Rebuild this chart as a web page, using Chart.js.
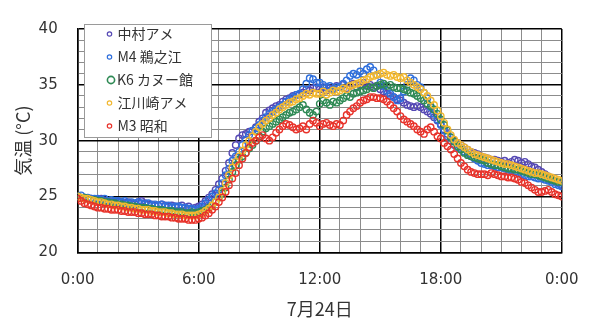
<!DOCTYPE html>
<html lang="ja">
<head>
<meta charset="utf-8">
<script src="https://cdn.jsdelivr.net/npm/chart.js@4/dist/chart.umd.min.js"></script>
<style>
  html, body { margin: 0; padding: 0; background: #fff; }
  #wrap { width: 600px; height: 334px; position: relative; }
</style>
</head>
<body>
<div id="wrap"><canvas id="c" width="600" height="334"></canvas></div>
<script>
// 7月24日の気温 (10分間隔, 0:00〜24:00)
const stepMinutes = 10;

const seriesNames = ['中村アメ', 'M4 鵜之江', 'K6 カヌー館', '江川崎アメ', 'M3 昭和'];
const seriesColors = ['#5548b4', '#2f6fdc', '#2f8a55', '#f2b830', '#e8332b'];

const nakamura = [
  25.0, 24.9, 24.9, 24.8, 24.8, 24.7,
  24.7, 24.8, 24.6, 24.6, 24.5, 24.6,
  24.5, 24.5, 24.4, 24.5, 24.4, 24.3,
  24.5, 24.6, 24.4, 24.3, 24.3, 24.2,
  24.2, 24.3, 24.2, 24.1, 24.2, 24.1,
  24.1, 24.2, 24.0, 24.1, 23.9, 24.0,
  24.1, 24.3, 24.6, 24.9, 25.2, 25.6,
  26.1, 26.6, 27.3, 28.0, 28.9, 29.6,
  30.2, 30.5, 30.6, 30.8, 30.9, 31.2,
  31.7, 32.0, 32.5, 32.7, 32.9, 33.1,
  33.2, 33.5, 33.7, 33.8, 34.0, 34.1,
  34.1, 34.3, 34.6, 34.5, 34.7, 34.8,
  34.6, 34.8, 34.5, 34.7, 34.6, 34.9,
  34.8, 35.0, 34.7, 34.9, 35.1, 34.8,
  35.0, 35.2, 34.9, 35.0, 34.8, 34.9,
  34.6, 34.4, 34.2, 34.0, 33.9, 33.7,
  33.6, 33.4, 33.2, 33.1, 33.0, 33.1,
  33.0, 32.8, 32.6, 32.4, 32.1, 31.8,
  31.5, 31.0, 30.6, 30.3, 30.0, 29.8,
  29.6, 29.4, 29.2, 29.0, 28.9, 28.8,
  28.6, 28.5, 28.4, 28.3, 28.3, 28.2,
  28.1, 28.2, 28.0, 28.1, 28.3, 28.2,
  28.0, 28.1, 27.9, 27.7, 27.6, 27.4,
  27.2, 27.0, 26.8, 26.6, 26.4, 26.2,
  26.0
];

const unoe = [
  25.0, 25.1, 24.9, 24.9, 24.8, 24.8,
  24.8, 24.7, 24.8, 24.6, 24.7, 24.6,
  24.6, 24.5, 24.6, 24.4, 24.5, 24.4,
  24.5, 24.4, 24.3, 24.4, 24.2, 24.3,
  24.2, 24.3, 24.1, 24.2, 24.0, 24.1,
  24.1, 24.0, 24.0, 23.9, 23.9, 23.8,
  23.9, 24.1, 24.4, 24.7, 25.0, 25.3,
  25.6, 26.2, 26.9, 27.5, 28.2, 28.6,
  29.0, 29.6, 30.1, 30.5, 30.9, 31.1,
  31.4, 31.8, 32.1, 32.4, 32.6, 32.8,
  33.0, 33.2, 33.5, 33.7, 33.9, 34.1,
  34.2, 34.6, 35.1, 35.6, 35.5, 35.2,
  35.2, 35.0, 34.8, 34.9, 34.6, 34.8,
  34.8, 35.1, 35.4, 35.8, 36.0, 35.9,
  36.2, 36.0, 36.4, 36.6, 36.3, 35.9,
  35.2, 34.9, 34.5, 34.2, 33.9, 33.6,
  33.8, 34.4, 35.0, 35.6, 35.4, 35.0,
  34.8, 34.3, 33.8, 33.0, 32.4, 31.9,
  31.4, 30.9, 30.4, 30.0, 29.6, 29.4,
  29.2, 29.0, 28.8, 28.6, 28.4, 28.2,
  28.0, 27.9, 27.8, 27.8, 27.7, 27.6,
  27.6, 27.5, 27.4, 27.3, 27.2, 27.1,
  27.0, 26.9, 26.8, 26.8, 26.7, 26.6,
  26.6, 26.5, 26.4, 26.3, 26.1, 26.0,
  25.9
];

const canoeHall = [
  25.0, 24.9, 24.9, 24.8, 24.7, 24.7,
  24.6, 24.6, 24.5, 24.5, 24.4, 24.4,
  24.3, 24.3, 24.2, 24.2, 24.1, 24.1,
  24.0, 24.0, 24.0, 23.9, 23.9, 23.8,
  23.8, 23.8, 23.7, 23.7, 23.7, 23.6,
  23.6, 23.6, 23.5, 23.5, 23.6, 23.5,
  23.6, 23.7, 23.8, 24.0, 24.2, 24.5,
  24.9, 25.3, 25.8, 26.5, 27.2, 27.8,
  28.3, 28.6, 28.9, 29.3, 29.6, 30.0,
  30.4, 30.8, 31.1, 31.3, 31.5, 31.7,
  31.9, 32.1, 32.3, 32.5, 32.6, 32.8,
  33.0, 33.2, 32.8, 32.5, 32.3, 32.6,
  33.3, 33.6, 33.4, 33.2, 33.5, 33.4,
  33.6, 33.8, 34.0, 33.9, 34.2, 34.3,
  34.4, 34.5, 34.6, 34.8, 34.7, 34.9,
  35.0, 35.1, 34.9, 35.0, 34.8, 34.7,
  34.7, 34.6, 34.5, 34.3, 34.2, 34.0,
  33.8, 33.6, 33.3, 33.1, 32.8, 32.4,
  31.9, 31.4, 30.9, 30.3, 29.9, 29.5,
  29.2, 28.9, 28.7, 28.6, 28.5, 28.4,
  28.3, 28.2, 28.0, 27.9, 27.8, 27.8,
  27.7, 27.6, 27.5, 27.5, 27.4, 27.4,
  27.3, 27.2, 27.1, 27.0, 27.0, 26.9,
  26.8, 26.7, 26.6, 26.5, 26.4, 26.3,
  26.3
];

const ekawasaki = [
  25.0, 24.9, 24.8, 24.8, 24.7, 24.6,
  24.5, 24.5, 24.4, 24.3, 24.3, 24.2,
  24.2, 24.1, 24.1, 24.0, 24.0, 23.9,
  23.9, 23.8, 23.8, 23.8, 23.7, 23.7,
  23.6, 23.6, 23.6, 23.5, 23.5, 23.4,
  23.4, 23.4, 23.3, 23.3, 23.3, 23.3,
  23.4, 23.5, 23.7, 23.9, 24.2, 24.5,
  24.9, 25.5, 26.2, 26.9, 27.6, 28.1,
  28.6, 29.1, 29.6, 30.0, 30.4, 30.8,
  31.2, 31.5, 31.8, 32.0, 32.3, 32.5,
  32.8, 33.0, 33.2, 33.4, 33.5, 33.7,
  33.8, 34.0, 34.2, 34.1, 34.3, 34.2,
  34.2, 34.4, 34.1, 34.3, 34.5, 34.4,
  34.5, 34.7, 34.6, 34.9, 35.0, 35.1,
  35.2, 35.4, 35.5, 35.7, 35.8, 35.9,
  36.0, 36.1, 35.9, 35.8, 35.9, 35.7,
  35.6, 35.7, 35.4, 35.2, 35.0, 34.8,
  34.6, 34.3, 34.0, 33.6, 33.2, 32.7,
  32.2, 31.6, 31.0, 30.5, 30.1, 29.8,
  29.6, 29.4, 29.2, 29.0, 28.8, 28.7,
  28.6, 28.5, 28.4, 28.3, 28.2, 28.1,
  28.0, 27.9, 27.9, 27.8, 27.7, 27.6,
  27.5, 27.4, 27.3, 27.2, 27.1, 27.1,
  27.0, 26.9, 26.8, 26.7, 26.6, 26.5,
  26.4
];

const showa = [
  24.8, 24.6, 24.4, 24.3, 24.2, 24.1,
  24.0, 24.0, 23.9, 23.9, 23.8, 23.8,
  23.8, 23.7, 23.7, 23.6, 23.6, 23.6,
  23.5, 23.5, 23.4, 23.4, 23.4, 23.3,
  23.3, 23.2, 23.2, 23.2, 23.1, 23.1,
  23.0, 23.0, 23.0, 22.9, 22.9, 22.9,
  23.0, 23.1, 23.3, 23.5, 23.8, 24.1,
  24.5, 24.9, 25.4, 26.0, 26.6, 27.1,
  27.8, 28.4, 28.9, 29.4, 29.8, 30.0,
  30.3, 30.5, 30.2, 30.0, 30.3, 30.7,
  31.0, 31.3, 31.5, 31.4, 31.2, 31.0,
  31.1, 31.3, 31.0, 31.5, 31.8, 31.6,
  31.3, 31.5, 31.6, 31.4, 31.3, 31.5,
  31.4, 31.8, 32.3, 32.6, 32.9, 33.1,
  33.4, 33.6, 33.7, 33.9, 33.9, 33.8,
  33.8, 33.7, 33.5, 33.2, 32.9, 32.6,
  32.2, 31.9, 31.7, 31.5, 31.3, 31.0,
  30.8, 30.6, 31.0, 31.2, 30.8, 30.4,
  30.2, 29.8, 29.5, 29.2, 28.8, 28.4,
  28.0, 27.7, 27.4, 27.2, 27.1, 27.0,
  27.0, 27.0, 26.9, 27.1, 27.0, 26.9,
  26.8, 26.8, 26.7, 26.7, 26.6, 26.5,
  26.3, 26.2, 26.0, 25.8, 25.6, 25.4,
  25.4, 25.5, 25.6, 25.4, 25.2, 25.1,
  25.0
];

const seriesValues = [nakamura, unoe, canoeHall, ekawasaki, showa];

const xTickLabels = ['0:00', '6:00', '12:00', '18:00', '0:00'];
const yTickLabels = [20, 25, 30, 35, 40];

const xTitle = '7月24日';
const yTitle = '気温 (°C)';

// time of day in hours for each reading
function toPoints(values) {
  return values.map((v, i) => ({ x: i * stepMinutes / 60, y: v }));
}

const datasets = seriesValues.map((vals, k) => ({
  label: seriesNames[k],
  data: toPoints(vals),
  showLine: false,
  borderColor: seriesColors[k],
  backgroundColor: 'rgba(0,0,0,0)',
  pointBackgroundColor: 'rgba(0,0,0,0)',
  pointBorderColor: seriesColors[k],
  pointBorderWidth: 1.4,
  pointRadius: 3.2,
  pointHoverRadius: 3.2,
  // later series are painted over earlier ones
  order: seriesValues.length - k
}));

const PLOT_LEFT = 77.7, PLOT_RIGHT = 561.8, PLOT_TOP = 21.7, PLOT_BOTTOM = 252.3;
const W = 600, H = 334;

const tickFont = { family: '"DejaVu Sans", sans-serif', size: 15 };
const cjkFont = '"Noto Sans CJK JP", "Noto Sans", sans-serif';

// boxed legend sitting in the upper-left corner of the plot
const boxedLegend = {
  id: 'boxedLegend',
  afterDraw(chart) {
    const ctx = chart.ctx;
    const bx = 84, by = 24, bw = 127, bh = 113;
    ctx.save();
    ctx.fillStyle = '#ffffff';
    ctx.fillRect(bx, by, bw, bh);
    ctx.strokeStyle = '#9a9a9a';
    ctx.lineWidth = 1;
    ctx.strokeRect(bx + 0.5, by + 0.5, bw, bh);
    ctx.font = '14px ' + cjkFont;
    ctx.textBaseline = 'middle';
    ctx.textAlign = 'left';
    chart.data.datasets.forEach((ds, k) => {
      const cy = by + 10 + k * 23;
      const big = k === 2;
      ctx.beginPath();
      ctx.arc(big ? 111 : 109.5, cy, big ? 3.6 : 2.2, 0, Math.PI * 2);
      ctx.strokeStyle = ds.borderColor;
      ctx.lineWidth = big ? 1.6 : 1.2;
      ctx.stroke();
      ctx.fillStyle = '#333';
      ctx.fillText(ds.label, big ? 117 : 117.5, cy);
    });
    ctx.restore();
  }
};

new Chart(document.getElementById('c'), {
  type: 'scatter',
  data: { datasets },
  options: {
    responsive: false,
    animation: false,
    events: [],
    layout: { padding: { left: 0, right: W - PLOT_RIGHT, top: PLOT_TOP, bottom: 0 } },
    plugins: {
      legend: { display: false },
      tooltip: { enabled: false }
    },
    scales: {
      x: {
        type: 'linear',
        min: 0,
        max: 24,
        afterFit(scale) { scale.height = H - PLOT_BOTTOM; },
        ticks: {
          stepSize: 1,
          autoSkip: false,
          maxRotation: 0,
          padding: 19,
          color: '#333',
          font: tickFont,
          callback: (v) => (v % 6 === 0 ? xTickLabels[v / 6] : '')
        },
        grid: {
          drawTicks: false,
          color: (c) => (c.tick && c.tick.value % 6 === 0 ? '#000' : '#8c8c8c'),
          lineWidth: (c) => (c.tick && c.tick.value % 6 === 0 ? 1.5 : 1)
        },
        border: { color: '#000', width: 1.5 },
        title: {
          display: true,
          text: xTitle,
          color: '#333',
          font: { family: cjkFont, size: 18 },
          padding: { top: 0, bottom: 14 }
        }
      },
      y: {
        min: 20,
        max: 40,
        afterFit(scale) { scale.width = PLOT_LEFT; },
        ticks: {
          stepSize: 1,
          autoSkip: false,
          padding: 20,
          color: '#333',
          font: tickFont,
          callback: (v) => (yTickLabels.includes(v) ? String(v) : '')
        },
        grid: {
          drawTicks: false,
          color: (c) => (c.tick && c.tick.value % 5 === 0 ? '#000' : '#8c8c8c'),
          lineWidth: (c) => (c.tick && c.tick.value % 5 === 0 ? 1.5 : 1)
        },
        border: { color: '#000', width: 1.5 },
        title: {
          display: true,
          text: yTitle,
          color: '#333',
          font: { family: cjkFont, size: 18 },
          padding: { top: 12, bottom: 0 }
        }
      }
    }
  },
  plugins: [boxedLegend]
});
</script>
</body>
</html>
